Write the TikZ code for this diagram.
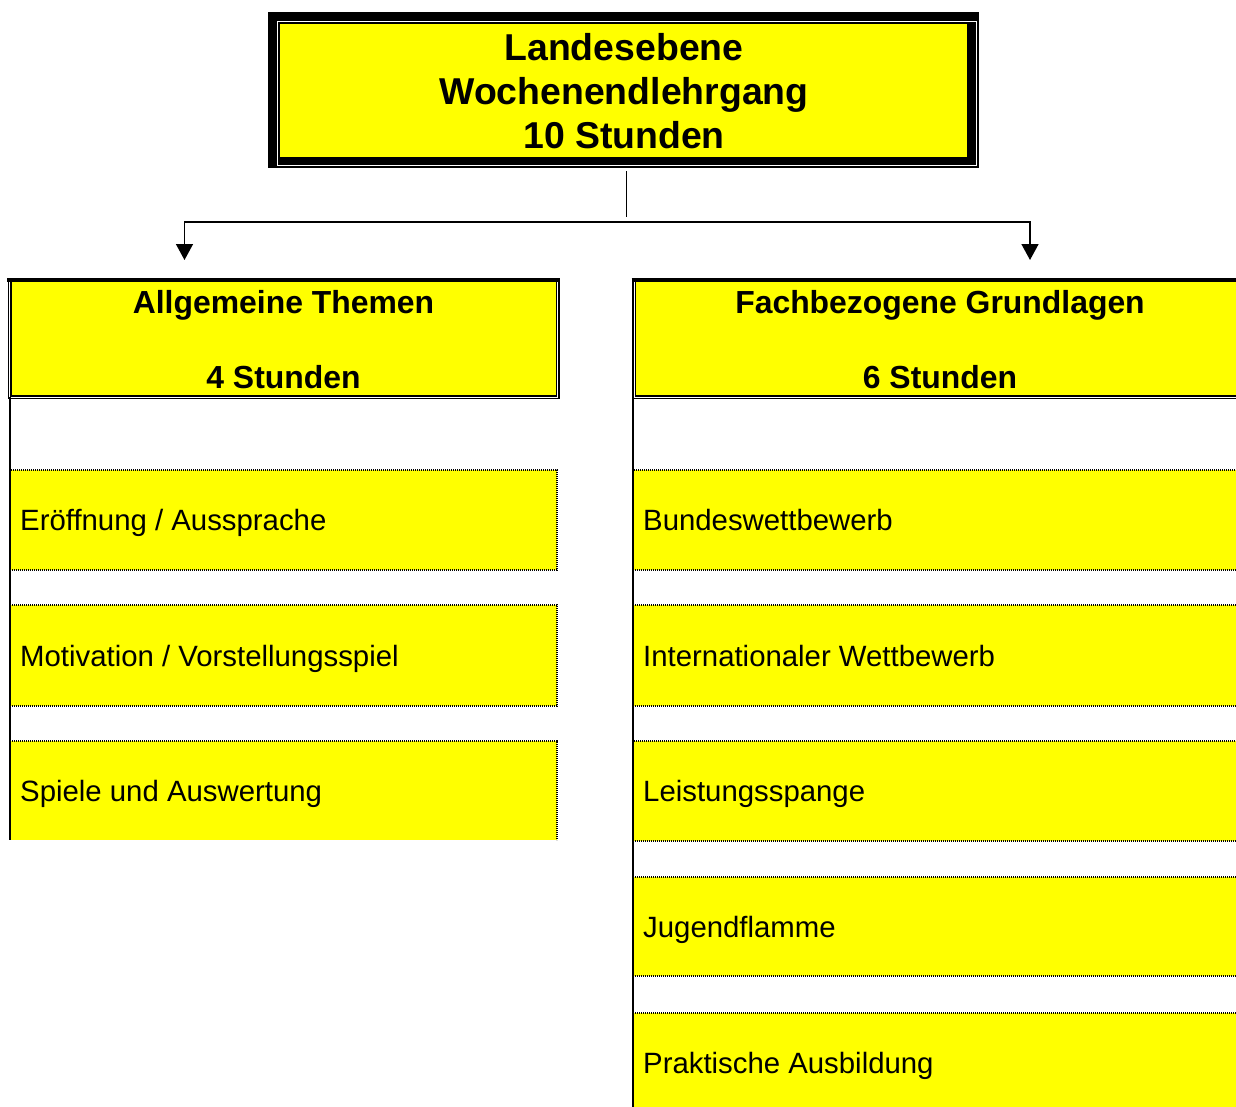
\documentclass[tikz,border=0pt]{standalone}
\usepackage{fontspec}
\setmainfont{Liberation Sans}
\usetikzlibrary{arrows.meta}
\definecolor{yel}{RGB}{255,255,0}
\newcommand\fntTop{\fontsize{37.4}{44}\selectfont\bfseries}
\newcommand\fntHdr{\fontsize{31.9}{37.5}\selectfont\bfseries}
\newcommand\fntItem{\fontsize{29.35}{34}\selectfont}
\begin{document}
\begin{tikzpicture}[x=1pt,y=-1pt,
  box/.style={anchor=north west, inner sep=0pt, outer sep=0pt},
  hdr/.style={box, fill=yel, draw=black, double=white, double distance=1pt, line width=1.6pt},
  itemfill/.style={box, fill=yel},
  dotline/.style={line width=1.6pt, dash pattern=on 1.3pt off 0.7pt},
  item/.style={itemfill, draw=black, dotline},
  vline/.style={line width=2pt},
  conn/.style={line width=1.5pt},
  tip/.style={-{Triangle[length=16pt,width=17pt]}},
  toptxt/.style={anchor=base, font=\fntTop, inner sep=0pt},
  hdrtxt/.style={anchor=base, font=\fntHdr, inner sep=0pt},
  itemtxt/.style={anchor=base west, font=\fntItem, inner sep=0pt}]
\useasboundingbox (0,0) rectangle (1236,1106);

% top box
\node[box, fill=black, minimum width=711pt, minimum height=156pt] (topframe) at (268,12) {};
\draw[white, line width=1pt] (277.5,21.5) rectangle (976.5,165.5);
\node[box, fill=yel, minimum width=687pt, minimum height=133pt] (top) at (280,24) {};
\node[toptxt] (t1) at (624,60) {Landesebene};
\node[toptxt] (t2) at (624,104) {Wochenendlehrgang};
\node[toptxt] (t3) at (624,148) {10 Stunden};

% connectors
\coordinate (vs) at (626.5,171);
\coordinate (ve) at (626.5,217);
\coordinate (mid) at (626.5,222);
\coordinate (al) at (184.5,260);
\coordinate (ar) at (1030,260);
\draw[conn] (vs) -- (ve);
\draw[conn, tip] (mid) -| (al);
\draw[conn, tip] (mid) -| (ar);

% header boxes
\node[hdr, minimum width=548pt, minimum height=116.7pt] (hl) at (9.6,280.3) {};
\node[hdr, minimum width=612pt, minimum height=116.7pt] (hr) at (634,280.3) {};
\draw[line width=4pt] ([xshift=-2.4pt]hl.north west) -- ([xshift=2.4pt]hl.north east);
\draw[line width=4pt] ([xshift=-2.4pt]hr.north west) -- ([xshift=2.4pt]hr.north east);
\node[hdrtxt] (hl1) at (283.5,313) {Allgemeine Themen};
\node[hdrtxt] (hl2) at (283.5,388) {4 Stunden};
\node[hdrtxt] (hr1) at (940,313) {Fachbezogene Grundlagen};
\node[hdrtxt] (hr2) at (940,388) {6 Stunden};

% left items
\node[item, minimum width=547pt, minimum height=100pt] (l1) at (10,470) {};
\node[item, minimum width=547pt, minimum height=101pt] (l2) at (10,605) {};
\node[itemfill, minimum width=547pt, minimum height=99pt] (l3) at (10,741) {};
\draw[dotline] (l3.north west) -- (l3.north east) -- (l3.south east);
\node[itemtxt] (l1t) at (20,530) {Eröffnung / Aussprache};
\node[itemtxt] (l2t) at (20,666) {Motivation / Vorstellungsspiel};
\node[itemtxt] (l3t) at (20,801) {Spiele und Auswertung};

% right items
\node[item, minimum width=620pt, minimum height=100pt] (r1) at (633,470) {};
\node[item, minimum width=620pt, minimum height=101pt] (r2) at (633,605) {};
\node[item, minimum width=620pt, minimum height=100pt] (r3) at (633,741) {};
\node[item, minimum width=620pt, minimum height=99pt] (r4) at (633,877) {};
\node[itemfill, minimum width=620pt, minimum height=100pt] (r5) at (633,1013) {};
\draw[dotline] (r5.north west) -- (r5.north east);
\node[itemtxt] (r1t) at (643,530) {Bundeswettbewerb};
\node[itemtxt] (r2t) at (643,666) {Internationaler Wettbewerb};
\node[itemtxt] (r3t) at (643,801) {Leistungsspange};
\node[itemtxt] (r4t) at (643,937) {Jugendflamme};
\node[itemtxt] (r5t) at (643,1073) {Praktische Ausbildung};

% column lines
\draw[vline] ([xshift=0.4pt]hl.south west) -- ([xshift=0.4pt]hl.south west |- l3.south);
\draw[vline] ([xshift=-1pt]hr.south west) -- ([xshift=-1pt]hr.south west |- r5.south);
\end{tikzpicture}
\end{document}
